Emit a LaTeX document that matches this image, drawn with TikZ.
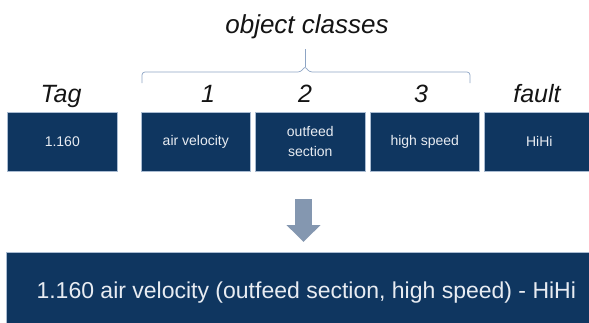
\documentclass[tikz,border=0pt]{standalone}
\usepackage{fontspec}
\setmainfont{Liberation Sans}
\usetikzlibrary{positioning,arrows.meta}
\definecolor{navy}{RGB}{15,54,96}
\definecolor{boxedge}{RGB}{170,188,210}
\definecolor{boxtext}{RGB}{232,236,242}
\definecolor{arrowgray}{RGB}{132,151,176}
\definecolor{bracecol}{RGB}{141,164,196}
\definecolor{ink}{RGB}{20,20,20}

\begin{document}
\begin{tikzpicture}[x=1pt,y=-1pt,
    tagbox/.style={fill=navy, draw=boxedge, line width=0.6pt, anchor=north west,
        minimum height=59pt, inner sep=0pt, align=center, text=boxtext,
        font=\fontsize{14}{20}\selectfont},
    headlabel/.style={anchor=base, text=ink, font=\fontsize{25}{30}\selectfont\itshape},
    bigarrow/.style={arrowgray, line width=17pt, -{Triangle[width=33pt,length=17pt]}}]
            \useasboundingbox (0,0) rectangle (589,322);
            \def\Y{112}
            \def\L{102}

            \node[tagbox, minimum width=110pt] (tag) at (7,\Y) {1.160};
            \node[tagbox, minimum width=109pt] (cls1) at (141,\Y) {air velocity};
            \node[tagbox, minimum width=110pt] (cls2) at (255,\Y) {outfeed\\section};
            \node[tagbox, minimum width=109pt] (cls3) at (370,\Y) {high speed};
            \node[tagbox, minimum width=110pt] (fault) at (484,\Y) {HiHi};

            \node[headlabel] (taglbl) at (61,\L) {Tag};
            \node[headlabel] (lbl1) at (208,\L) {1};
            \node[headlabel] (lbl2) at (305,\L) {2};
            \node[headlabel] (lbl3) at (421,\L) {3};
            \node[headlabel] (faultlbl) at (537,\L) {fault};
            \node[headlabel, font=\fontsize{26}{30}\selectfont\itshape] (classes) at (307,33) {object classes};

            \draw[bracecol, line width=0.7pt, rounded corners=3pt]
                (142,83) -- (142,72) -- (301,72) -- (305,66) -- (309,72) -- (470,72) -- (470,83);
            \draw[bracecol, line width=0.7pt] (305,67) -- (305,49);

            \node[tagbox, minimum width=600pt, minimum height=80pt,
                font=\fontsize{23}{28}\selectfont] (result) at (6,252)
                {1.160 air velocity (outfeed section, high speed) - HiHi};

            \coordinate (atop) at (303.5,199);
            \coordinate (atip) at (303.5,242);
            \draw[bigarrow] (atop) -- (atip);
        \end{tikzpicture}
\end{document}
